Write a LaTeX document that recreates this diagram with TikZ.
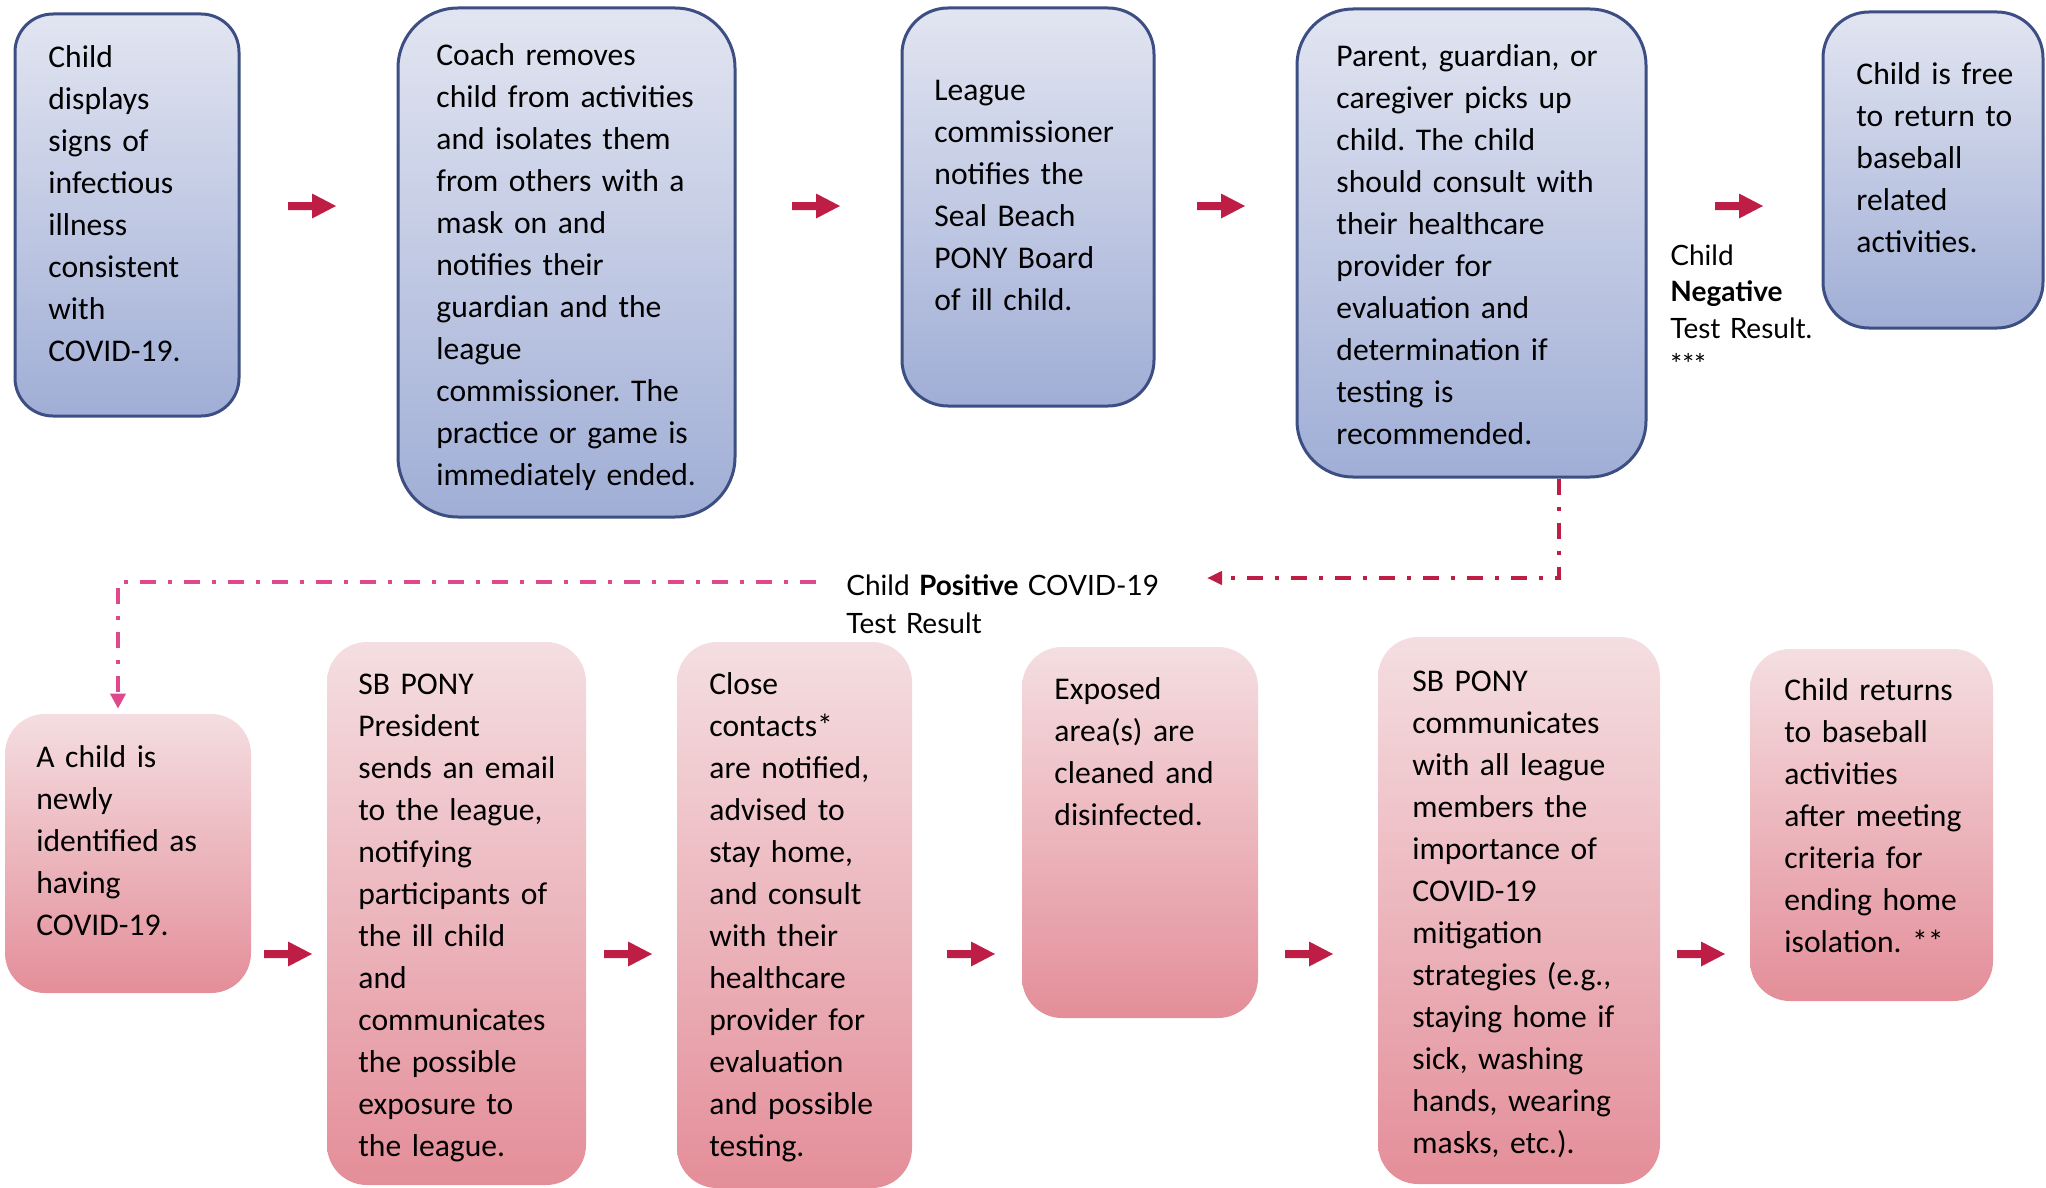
\documentclass[tikz,border=0pt]{standalone}
\usepackage{fontspec}
\setmainfont{Carlito}
\newfontfamily\labfont{Lato}
\usetikzlibrary{fit,arrows.meta}
\definecolor{bluetop}{RGB}{226,229,241}
\definecolor{bluebot}{RGB}{160,174,214}
\definecolor{blueedge}{RGB}{60,78,130}
\definecolor{pinktop}{RGB}{244,222,225}
\definecolor{pinkbot}{RGB}{228,142,153}
\definecolor{crim}{RGB}{190,30,69}
\definecolor{pinkline}{RGB}{224,72,142}
\newcommand\fst{\rule{0pt}{14pt}}
\newcommand\lst{\rule{0pt}{12pt}}
\frenchspacing
\tikzset{
  bluebox/.style={draw=blueedge, line width=1.5pt, top color=bluetop, bottom color=bluebot, inner sep=0pt},
  pinkbox/.style={top color=pinktop, bottom color=pinkbot, inner sep=0pt, rounded corners=20pt},
  txt/.style={anchor=north west, inner sep=0pt, align=left, text width=190pt, font=\fontsize{15.8}{21}\selectfont},
  lab/.style={anchor=north west, inner sep=0pt, align=left, text width=190pt},
  dashdot/.style={line width=2pt, dash pattern=on 8pt off 6pt on 2pt off 6pt},
  barrow/.pic={\fill[crim] (-24,-4) -- (0,-4) -- (0,-12.5) -- (24,0) -- (0,12.5) -- (0,4) -- (-24,4) -- cycle;}
}
\begin{document}
\begin{tikzpicture}[x=0.5pt,y=-0.5pt]
\useasboundingbox (0,0) rectangle (2046,1188);
% top row boxes
\node[bluebox, rounded corners=19pt, fit={(15,14) (239,416)}] (n1) {};
\node[bluebox, rounded corners=30pt, fit={(398,8) (735,517)}] (n2) {};
\node[bluebox, rounded corners=23pt, fit={(902,8) (1154,406)}] (n3) {};
\node[bluebox, rounded corners=28pt, fit={(1297,9) (1646,477)}] (n4) {};
\node[bluebox, rounded corners=23pt, fit={(1823,12) (2043,328)}] (n5) {};
% bottom row boxes
\node[pinkbox, fit={(5,714) (251,993)}] (m1) {};
\node[pinkbox, fit={(327,642) (586,1185)}] (m2) {};
\node[pinkbox, fit={(677,642) (912,1188)}] (m3) {};
\node[pinkbox, fit={(1022,647) (1258,1018)}] (m4) {};
\node[pinkbox, fit={(1378,637) (1660,1184)}] (m5) {};
\node[pinkbox, fit={(1750,649) (1993,1001)}] (m6) {};
% texts top
\node[txt] (t1) at (48,39) {\fst Child\\displays\\signs of\\infectious\\illness\\consistent\\with\\COVID-19.};
\node[txt] (t2) at (436,37) {\fst Coach removes\\child from activities\\and isolates them\\from others with a\\mask on and\\notifies their\\guardian and the\\league\\commissioner. The\\practice or game is\\immediately ended.};
\node[txt] (t3) at (934,72) {\fst League\\commissioner\\notifies the\\Seal Beach\\PONY Board\\of ill child.};
\node[txt] (t4) at (1336,38) {\fst Parent, guardian, or\\caregiver picks up\\child. The child\\should consult with\\their healthcare\\provider for\\evaluation and\\determination if\\testing is\\recommended.};
\node[txt] (t5) at (1856,56) {\fst Child is free\\to return to\\baseball\\related\\activities.};
% texts bottom
\node[txt] (u1) at (36,739) {\fst A child is\\newly\\identified as\\having\\COVID-19.};
\node[txt] (u2) at (358,666) {\fst SB PONY\\President\\sends an email\\to the league,\\notifying\\participants of\\the ill child\\and\\communicates\\the possible\\exposure to\\the league.};
\node[txt] (u3) at (709,666) {\fst Close\\contacts*\\are notified,\\advised to\\stay home,\\and consult\\with their\\healthcare\\provider for\\evaluation\\and possible\\testing.};
\node[txt] (u4) at (1054,671) {\fst Exposed\\area(s) are\\cleaned and\\disinfected.};
\node[txt] (u5) at (1412,663) {\fst SB PONY\\communicates\\with all league\\members the\\importance of\\COVID-19\\mitigation\\strategies (e.g.,\\staying home if\\sick, washing\\hands, wearing\\masks, etc.).};
\node[txt] (u6) at (1784,672) {\fst Child returns\\to baseball\\activities\\after meeting\\criteria for\\ending home\\isolation. **};
% labels
\node[lab, font=\labfont\fontsize{14}{18.25}\selectfont] (neg) at (1670,241) {\lst Child\\\textbf{Negative}\\Test Result.\\{}***};
\node[lab, font=\labfont\fontsize{14}{19}\selectfont, text width=240pt] (pos) at (846,571) {\lst Child \textbf{Positive} COVID-19\\Test Result};
% block arrows
\pic at (312,206) {barrow};
\pic at (816,206) {barrow};
\pic at (1221,206) {barrow};
\pic at (1739,206) {barrow};
\pic at (288,954) {barrow};
\pic at (628,954) {barrow};
\pic at (971,954) {barrow};
\pic at (1309,954) {barrow};
\pic at (1701,954) {barrow};
% dash-dot connectors
\coordinate (cend) at (1207,578);
\coordinate (pstart) at (816,582);
\draw[dashdot, draw=crim, -{Triangle[length=7.5pt,width=6.5pt]}] (1559,0 |- n4.south) -- (1559,578) -- (cend);
\draw[dashdot, draw=pinkline, -{Triangle[length=7.5pt,width=7.5pt]}, shorten >=2.5pt] (pstart) -- (118,582) -- (118,0 |- m1.north);
\end{tikzpicture}
\end{document}
